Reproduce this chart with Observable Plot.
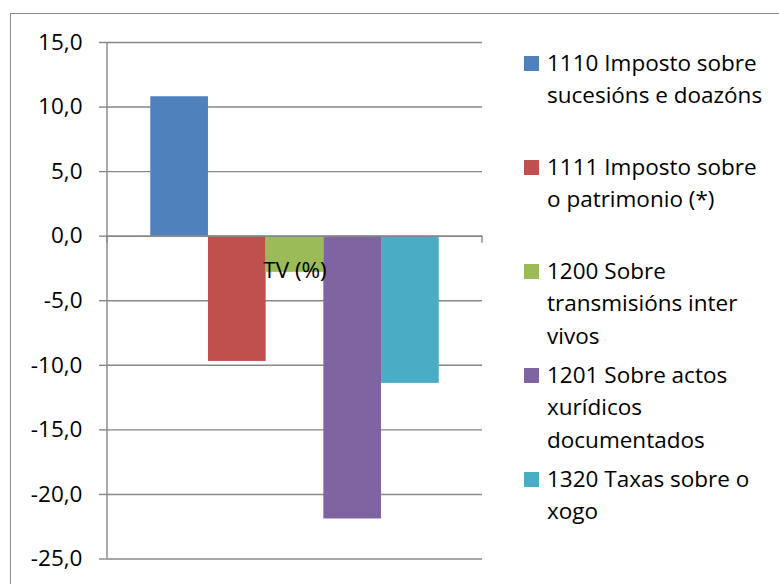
<!DOCTYPE html>
<html>
<head>
<meta charset="utf-8">
<script src="https://cdn.jsdelivr.net/npm/d3@7"></script>
<script src="https://cdn.jsdelivr.net/npm/@observablehq/plot@0.6"></script>
<style>
  html, body { margin: 0; padding: 0; background: #fff; }
  #wrap { position: relative; width: 779px; height: 584px; overflow: hidden; background: #fff; }
  #border { position: absolute; left: 10px; top: 13px; width: 900px; height: 700px; border: 1.5px solid #8a8a8a; box-sizing: border-box; }
  #chart { position: absolute; left: 0; top: 0; }
  #chart svg { background: transparent !important; }
  #legend { position: absolute; left: 524px; top: 47px; font-family: "Open Sans", sans-serif; font-size: 22.5px; line-height: 32.3px; color: #000; }
  .item { display: flex; align-items: flex-start; height: 104px; }
  .sw { width: 15px; height: 15px; margin-top: 8.6px; margin-right: 8px; flex: none; }
  .txt { white-space: nowrap; }
</style>
</head>
<body>
<div id="wrap">
  <div id="border"></div>
  <div id="chart"></div>
  <div id="legend"></div>
</div>
<script>
// ---- data ----
const series = [
  "1110 Imposto sobre sucesións e doazóns",
  "1111 Imposto sobre o patrimonio (*)",
  "1200 Sobre transmisións inter vivos",
  "1201 Sobre actos xurídicos documentados",
  "1320 Taxas sobre o xogo"
];
const legendLines = [
  ["1110 Imposto sobre", "sucesións e doazóns"],
  ["1111 Imposto sobre", "o patrimonio (*)"],
  ["1200 Sobre", "transmisións inter", "vivos"],
  ["1201 Sobre actos", "xurídicos", "documentados"],
  ["1320 Taxas sobre o", "xogo"]
];
const values = [10.8, -9.7, -2.8, -21.9, -11.4];
const colors = ["#4F81BD", "#C0504D", "#9BBB59", "#8064A2", "#4BACC6"];
const categories = ["TV (%)"];
const yTicks = [15, 10, 5, 0, -5, -10, -15, -20, -25];

const data = series.map((s, i) => ({name: s, value: values[i]}));
const fmt = d => d.toFixed(1).replace(".", ",");
const gray = "#868686";

// custom mark: vertical value-axis line and category tick marks on the zero line
const axisLines = (index, scales, values, dims) => {
  const g = document.createElementNS("http://www.w3.org/2000/svg", "g");
  const x0 = dims.marginLeft, x1 = dims.width - dims.marginRight;
  const yTop = scales.y(d3.max(yTicks)), yBot = scales.y(d3.min(yTicks)), yZero = scales.y(0);
  const mk = (xa, ya, xb, yb) => {
    const l = document.createElementNS("http://www.w3.org/2000/svg", "line");
    l.setAttribute("x1", xa); l.setAttribute("y1", ya);
    l.setAttribute("x2", xb); l.setAttribute("y2", yb);
    l.setAttribute("stroke", gray); l.setAttribute("stroke-width", 1.4);
    g.appendChild(l);
  };
  mk(x0, yTop, x0, yBot);
  mk(x0, yZero, x0, yZero + 7);
  mk(x1, yZero, x1, yZero + 7);
  return g;
};

const chart = Plot.plot({
  width: 500,
  height: 584,
  marginLeft: 107,
  marginRight: 18,
  marginTop: 42,
  marginBottom: 25.5,
  style: {fontFamily: "'Open Sans', sans-serif", fontSize: "22.5px", color: "#000", background: "transparent"},
  x: {type: "band", domain: series, paddingInner: 0, paddingOuter: 0.75, round: false, axis: null},
  y: {domain: [-25, 15], axis: null},
  color: {domain: series, range: colors},
  marks: [
    Plot.gridY(yTicks, {stroke: gray, strokeOpacity: 1, strokeWidth: 1.4}),
    Plot.barY(data, {x: "name", y: "value", fill: "name", insetLeft: 0, insetRight: 0}),
    Plot.ruleY([0], {stroke: gray, strokeWidth: 1.4}),
    axisLines,
    Plot.axisY(yTicks, {tickSize: 8, tickPadding: 17, tickFormat: fmt, stroke: gray, strokeWidth: 1.4, fill: "#000", label: null, fontSize: 22.5}),
    Plot.text(categories, {text: d => d, y: () => 0, frameAnchor: "middle", dy: 35, fill: "#000", fontSize: 22.5})
  ]
});
document.getElementById("chart").appendChild(chart);

const legend = document.getElementById("legend");
legendLines.forEach((lines, i) => {
  const item = document.createElement("div");
  item.className = "item";
  const sw = document.createElement("div");
  sw.className = "sw";
  sw.style.background = colors[i];
  const txt = document.createElement("div");
  txt.className = "txt";
  txt.innerHTML = lines.join("<br>");
  item.appendChild(sw);
  item.appendChild(txt);
  legend.appendChild(item);
});
</script>
</body>
</html>
